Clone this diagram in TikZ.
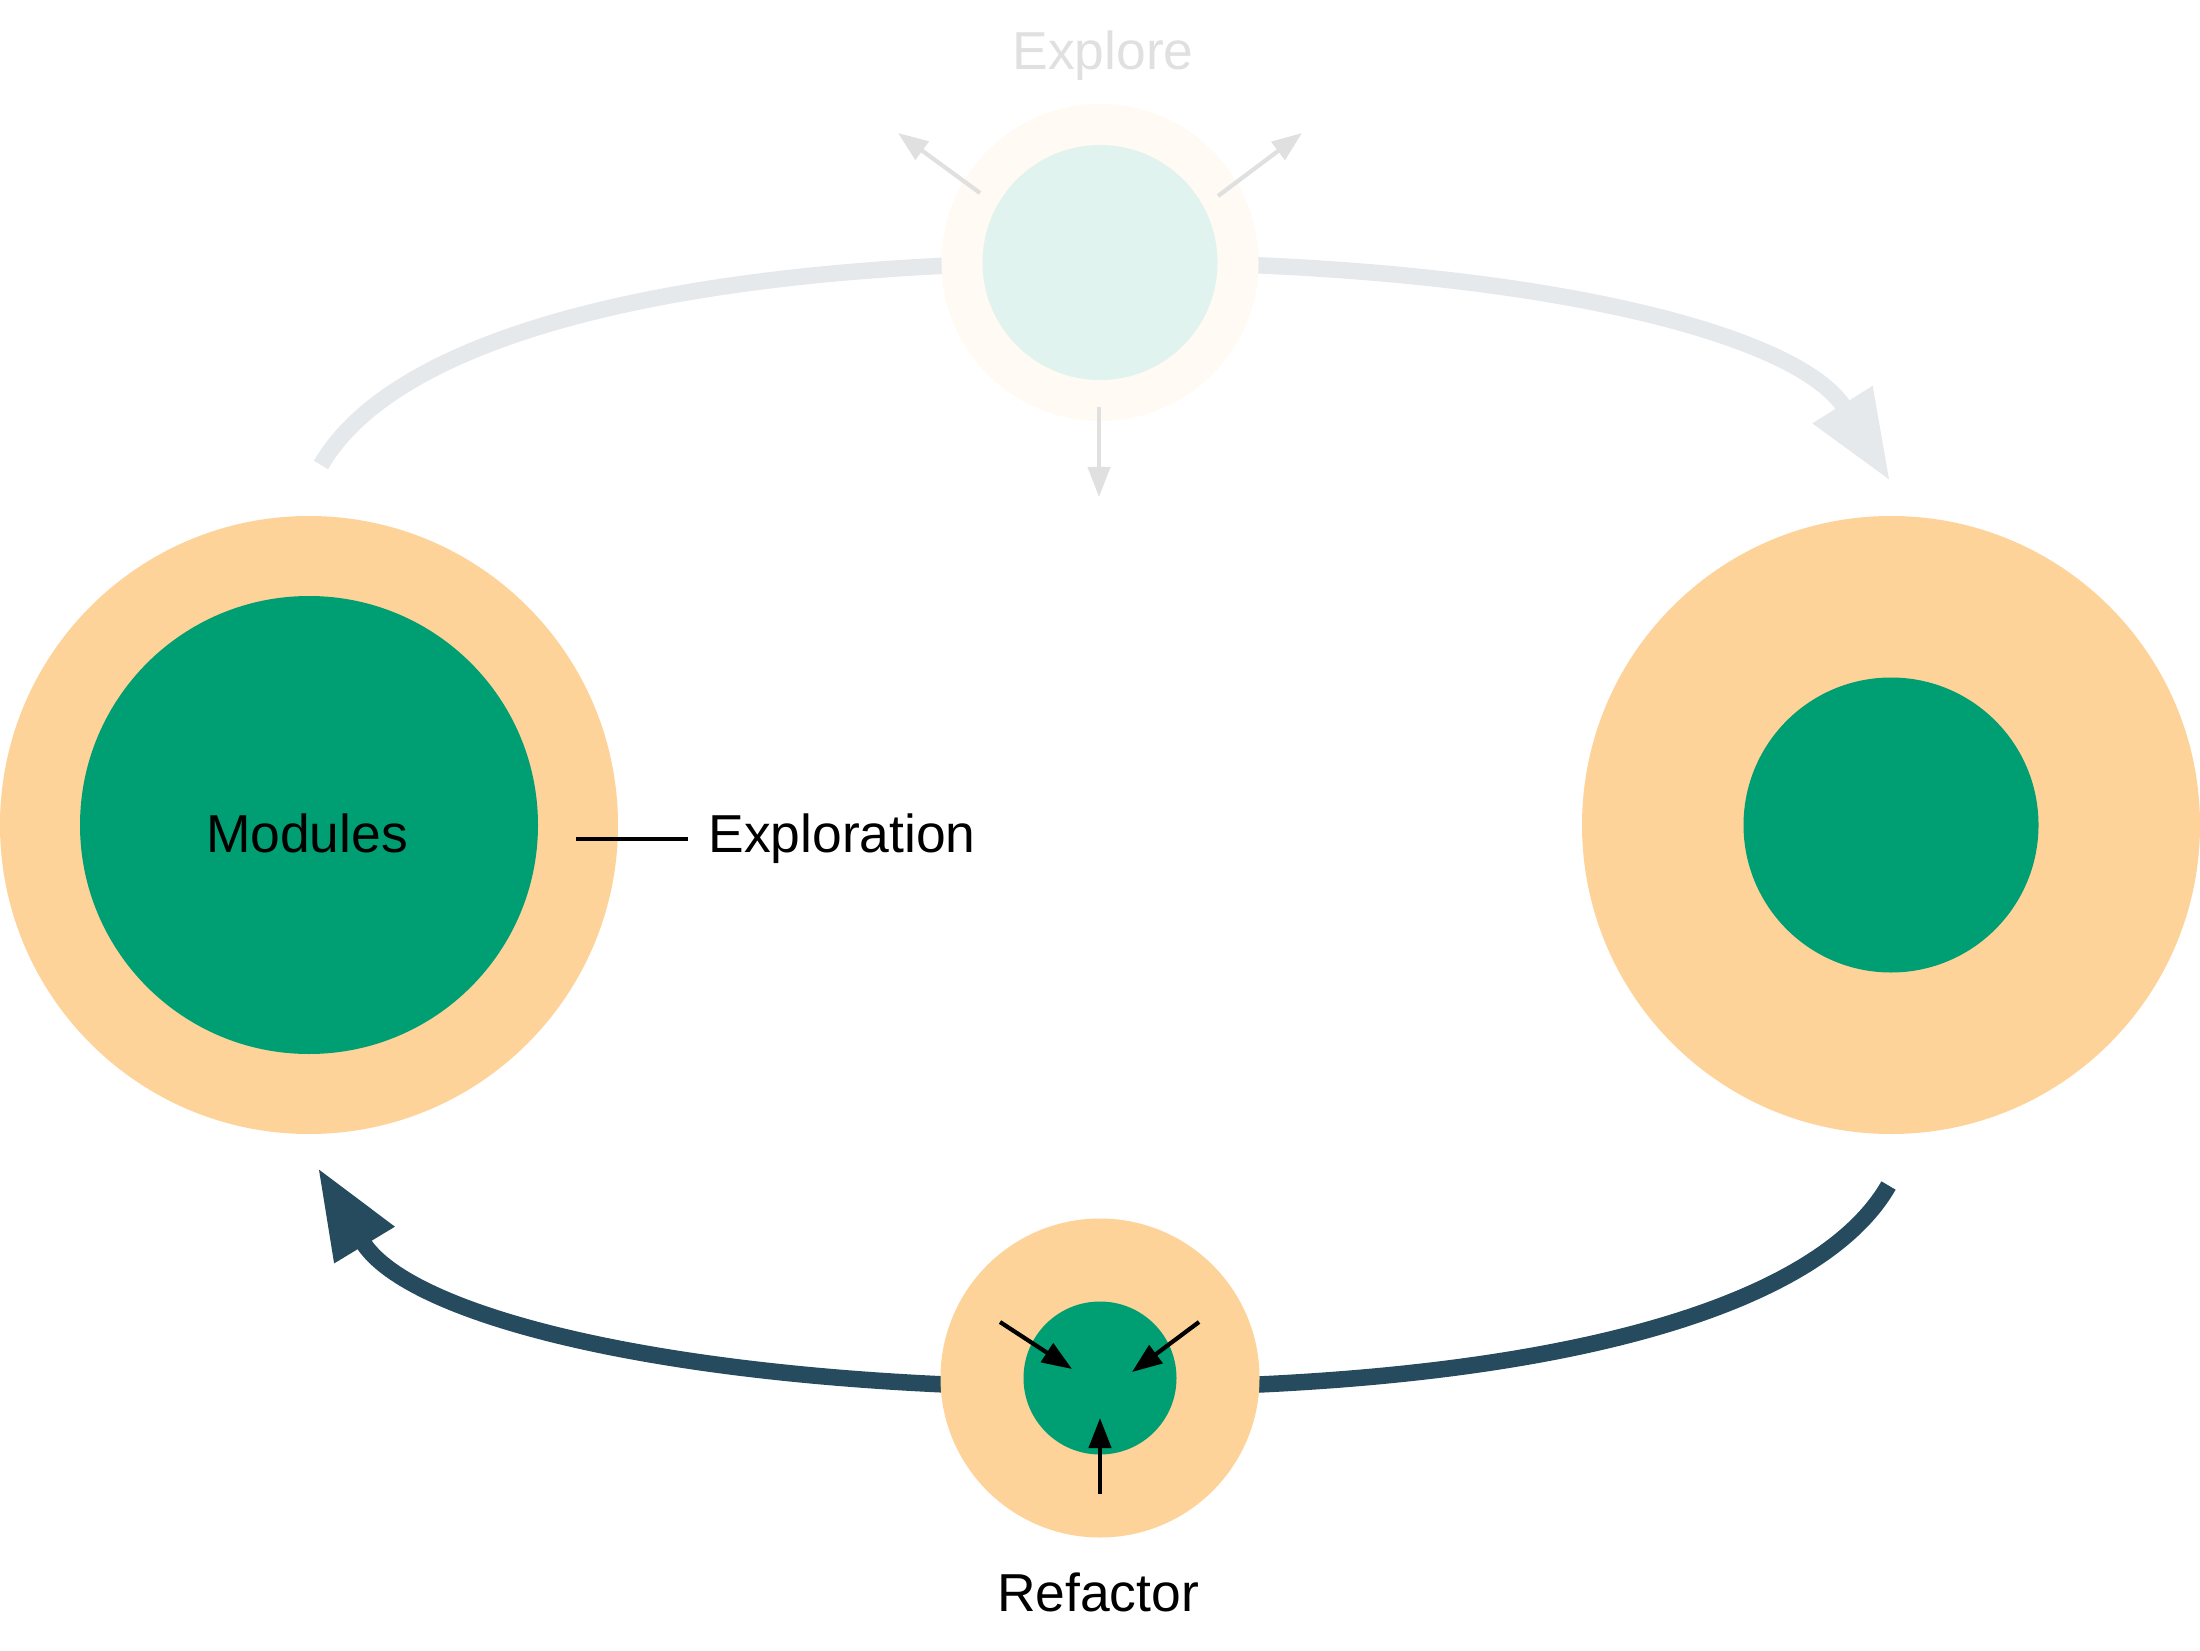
\documentclass[tikz,border=0pt]{standalone}
\usepackage{fontspec}
\setmainfont{Liberation Sans}
\usetikzlibrary{arrows.meta,backgrounds}
\definecolor{peach}{HTML}{FDD399}
\definecolor{modgreen}{HTML}{009E73}
\definecolor{slate}{HTML}{264B5E}
\definecolor{fadepeach}{HTML}{FFFAF3}
\definecolor{fadegreen}{HTML}{E0F3EE}
\definecolor{fadeslate}{HTML}{E5E9EC}
\definecolor{fadeink}{HTML}{E0E0E0}
\tikzset{
  ring/.style={circle,fill=peach,draw=none,inner sep=0pt},
  core/.style={circle,fill=modgreen,draw=none,inner sep=0pt},
  cyclearc/.style={line width=1.65mm,-{Triangle[length=9mm,width=6.6mm]}},
  smallarrow/.style={line width=0.42mm,-{Triangle[length=3mm,width=2.2mm]}},
  lbl/.style={font=\fontsize{15.2}{18}\selectfont,inner sep=0pt}
}
\begin{document}
\begin{tikzpicture}[x=1cm,y=1cm]
\useasboundingbox (0,0) rectangle (22,16.5);
% modules, before and after
\node[ring,minimum size=6.18cm] (modring) at (3.09,8.25) {};
\node[core,minimum size=4.58cm] (modcore) at (3.09,8.25) {};
\node[ring,minimum size=6.18cm] (newring) at (18.91,8.25) {};
\node[core,minimum size=2.95cm] (newcore) at (18.91,8.25) {};
% explore (faded)
\node[ring,fill=fadepeach,minimum size=3.17cm] (expring) at (11,13.875) {};
\node[core,fill=fadegreen,minimum size=2.35cm] (expcore) at (11,13.875) {};
% refactor
\node[ring,minimum size=3.19cm] (refring) at (11,2.72) {};
\node[core,minimum size=1.53cm] (refcore) at (11,2.72) {};
% labels
\node[lbl,anchor=base] (modlabel) at (3.07,7.98) {Modules};
\node[lbl,anchor=west,inner xsep=2mm] (explabel) at (6.877,8.113) {Exploration};
\node[lbl,anchor=base,text=fadeink] (explorelabel) at (11.03,15.807) {Explore};
\node[lbl,anchor=base] (reflabel) at (10.98,0.383) {Refactor};
\coordinate (calloutstart) at (5.76,8.113);
\draw[line width=0.4mm] (calloutstart) -- (explabel.west);
% cycle arcs
\coordinate (topstart) at (3.21,11.85);
\coordinate (toptip) at (18.90,11.69);
\coordinate (botstart) at (18.885,4.645);
\coordinate (bottip) at (3.18,4.82);
\begin{scope}[on background layer]
\draw[cyclearc,fadeslate] (topstart) .. controls (3.96,13.15) and (6.80,13.88) .. (11.04,13.88)
  .. controls (15.28,13.88) and (17.98,13.17) .. (toptip);
\draw[cyclearc,slate] (botstart) .. controls (18.14,3.35) and (15.28,2.62) .. (11.04,2.62)
  .. controls (6.80,2.62) and (4.08,3.33) .. (bottip);
\end{scope}
% explore arrows
\coordinate (xa1) at (9.80,14.57);
\coordinate (xa1tip) at (8.98,15.17);
\coordinate (xa2) at (12.18,14.54);
\coordinate (xa2tip) at (13.02,15.17);
\coordinate (xa3) at (10.99,12.43);
\coordinate (xa3tip) at (10.99,11.53);
\draw[smallarrow,fadeink] (xa1) -- (xa1tip);
\draw[smallarrow,fadeink] (xa2) -- (xa2tip);
\draw[smallarrow,fadeink] (xa3) -- (xa3tip);
% refactor arrows
\coordinate (ra1) at (10.00,3.28);
\coordinate (ra1tip) at (10.72,2.81);
\coordinate (ra2) at (11.99,3.28);
\coordinate (ra2tip) at (11.32,2.78);
\coordinate (ra3) at (11.00,1.56);
\coordinate (ra3tip) at (11.00,2.32);
\draw[smallarrow] (ra1) -- (ra1tip);
\draw[smallarrow] (ra2) -- (ra2tip);
\draw[smallarrow] (ra3) -- (ra3tip);
\end{tikzpicture}
\end{document}
